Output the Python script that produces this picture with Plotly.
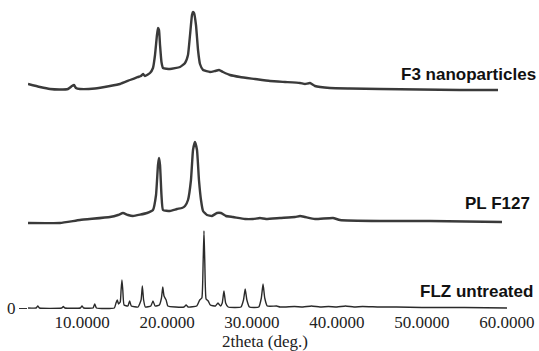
import plotly.graph_objects as go

# ---- data (2theta in degrees, intensity in arbitrary units) ----
f3_2theta = [3.65, 5.06, 6.24, 7.41, 8.35, 8.82, 9.06, 9.29, 9.76, 11.53, 13.29, 14.47, 15.65,
             16.59, 16.94, 17.18, 17.41, 18.0, 18.35, 18.59, 18.82, 18.94, 19.06, 19.18, 19.35,
             19.53, 20.35, 21.53, 22.12, 22.47, 22.71, 22.94, 23.06, 23.18, 23.41, 23.65, 23.88,
             24.24, 25.06, 25.65, 26.12, 26.59, 27.41, 28.59, 30.35, 32.12, 33.88, 35.65, 36.24,
             36.82, 37.41, 39.18, 41.53, 45.06, 49.76, 54.47, 58.94]
f3_intensity = [6, 3, 1, 0.5, 1, 4, 5, 2, 1, 1.5, 4, 6, 10,
                13, 14, 16, 14, 17, 22, 35, 55, 62, 60, 45, 28,
                22, 21, 23, 27, 35, 55, 75, 78, 77, 65, 40, 26,
                20, 18, 19, 20, 18, 15, 13, 11, 9, 8, 7, 6,
                7, 4, 2, 1.5, 1, 0.5, 0, 0]

pl_2theta = [3.65, 7.41, 9.76, 13.29, 14.24, 14.82, 15.41, 16.0, 17.65, 18.35, 18.71, 18.94,
             19.06, 19.18, 19.35, 19.53, 20.35, 21.18, 21.76, 22.12, 22.47, 22.82, 23.06, 23.29,
             23.53, 23.76, 24.0, 24.24, 24.71, 25.29, 25.88, 26.35, 26.94, 27.76, 29.18, 30.12,
             30.94, 31.65, 33.29, 35.06, 35.65, 36.24, 37.41, 39.53, 40.35, 45.06, 50.94, 59.41]
pl_intensity = [0, 0, 3, 6, 8, 10, 8, 7, 10, 13, 28, 58,
                65, 58, 28, 13, 12, 14, 15, 17, 23, 43, 73, 81,
                73, 43, 23, 12, 8, 7, 10, 10, 7, 6, 4, 4,
                5, 4, 5, 6, 7, 6, 4, 5, 3, 2, 2, 1]

flz_2theta = [3.65, 4.6, 4.8, 5.0, 7.6, 7.8, 8.0, 9.8, 10.0, 10.2, 11.3, 11.5, 11.7, 13.8,
              14.0, 14.15, 14.3, 14.5, 14.6, 14.7, 14.8, 14.95, 15.4, 15.6, 15.8, 16.6, 16.95,
              17.1, 17.25, 17.45, 18.1, 18.35, 18.6, 19.1, 19.35, 19.5, 19.65, 19.9, 20.1, 21.0,
              22.0, 22.25, 22.5, 23.5, 23.85, 24.1, 24.25, 24.35, 24.45, 24.6, 24.85, 25.1, 25.7,
              26.0, 26.3, 26.5, 26.7, 26.9, 27.2, 28.7, 29.0, 29.2, 29.4, 29.7, 30.8, 31.1, 31.3,
              31.5, 31.8, 32.9, 33.3, 35.0, 36.0, 37.0, 38.0, 39.0, 40.0, 41.0, 42.0, 43.0, 45.0,
              47.0, 50.0, 55.0, 60.0]
flz_intensity = [0, 0, 2, 0, 0, 1.5, 0, 0, 2, 0, 0, 4, 0, 0,
                 5, 8, 4, 6, 18, 28, 18, 3, 2, 7, 2, 1, 8,
                 22, 8, 1, 2, 7, 2, 3, 10, 21, 12, 8, 2, 1,
                 1, 3, 1, 2, 8, 10, 45, 77, 45, 9, 7, 3, 2,
                 5, 2, 5, 17, 5, 1, 1, 8, 19, 8, 1, 1, 10, 24,
                 10, 2, 2, 1, 1.5, 1, 2, 1, 1.5, 1, 2, 1, 1.5, 1,
                 1, 0.5, 0.5, 0]

series_names = ["F3 nanoparticles", "PL F127", "FLZ untreated"]
series_offsets = [218, 85, 0]

tick_values = [10, 20, 30, 40, 50, 60]
tick_labels = ["10.0000", "20.0000", "30.0000", "40.0000", "50.0000", "60.0000"]

fig = go.Figure()
for xs, ys, off, w, col in [
    (f3_2theta, f3_intensity, series_offsets[0], 2.4, "#3a3a3a"),
    (pl_2theta, pl_intensity, series_offsets[1], 2.4, "#3a3a3a"),
    (flz_2theta, flz_intensity, series_offsets[2], 1.4, "#2a2a2a"),
]:
    fig.add_trace(go.Scatter(x=xs, y=[v + off for v in ys], mode="lines",
                             line=dict(color=col, width=w, shape="spline", smoothing=0.4),
                             showlegend=False, hoverinfo="skip"))

serif = "Liberation Serif, Times New Roman, serif"
sans = "Liberation Sans, Arial, sans-serif"

fig.update_layout(
    width=539, height=351, autosize=False,
    margin=dict(l=28, r=10, t=0, b=41),
    paper_bgcolor="white", plot_bgcolor="white",
    xaxis=dict(range=[3.647, 62.59], showgrid=False, zeroline=False, showline=False,
               tickmode="array", tickvals=tick_values, ticktext=tick_labels, ticks="",
               tickfont=dict(family=serif, size=17, color="#222")),
    yaxis=dict(range=[-2, 308], showgrid=False, zeroline=False, showline=False,
               tickmode="array", tickvals=[0], ticktext=["0"], ticks="outside",
               ticklen=8, tickcolor="#333", tickwidth=1.2,
               tickfont=dict(family=serif, size=17, color="#222")),
    annotations=[
        dict(text="<b>" + series_names[0] + "</b>", xref="paper", yref="paper",
             x=1.018, y=0.761, xanchor="right", yanchor="middle", showarrow=False,
             font=dict(family=sans, size=17, color="#111")),
        dict(text="<b>" + series_names[1] + "</b>", xref="paper", yref="paper",
             x=1.006, y=0.342, xanchor="right", yanchor="middle", showarrow=False,
             font=dict(family=sans, size=17, color="#111")),
        dict(text="<b>" + series_names[2] + "</b>", xref="paper", yref="paper",
             x=1.012, y=0.061, xanchor="right", yanchor="middle", showarrow=False,
             font=dict(family=sans, size=17, color="#111")),
        dict(text="2theta (deg.)", xref="paper", yref="paper",
             x=0.473, y=-0.1, xanchor="center", yanchor="middle", showarrow=False,
             font=dict(family=serif, size=17, color="#222")),
    ],
)

fig.write_html("out.html")
